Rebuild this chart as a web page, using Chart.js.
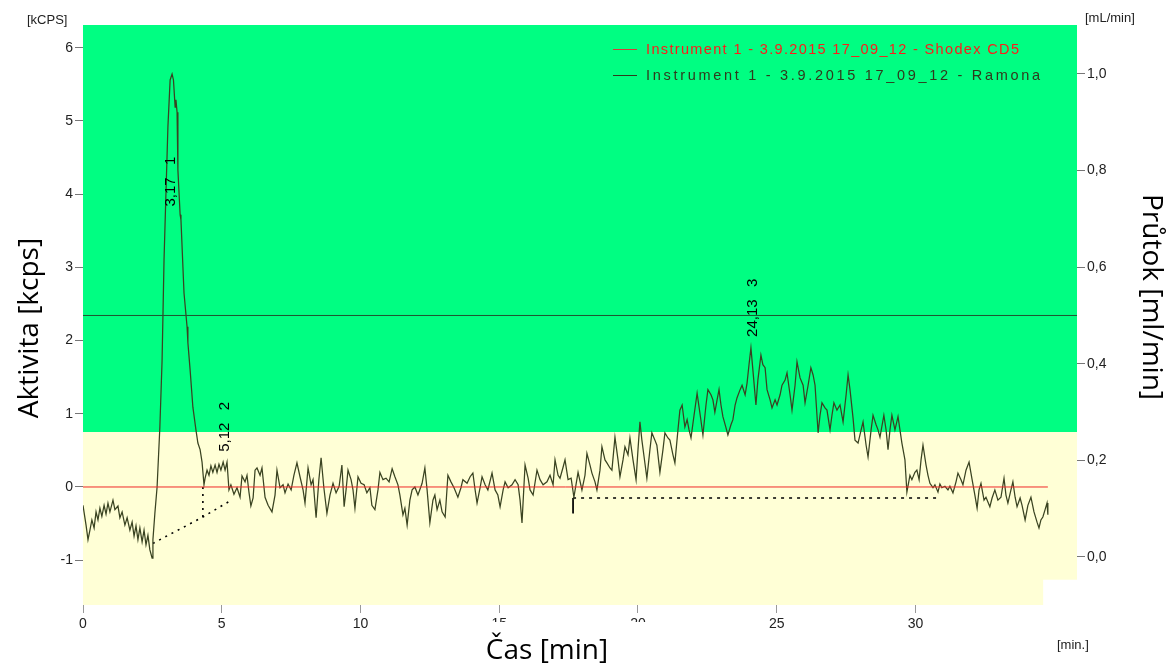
<!DOCTYPE html>
<html><head><meta charset="utf-8">
<script src="https://cdn.jsdelivr.net/npm/chart.js@4/dist/chart.umd.min.js"></script>
<style>html,body{margin:0;padding:0;background:#fff}canvas{display:block}</style>
</head><body>
<canvas id="c" width="1170" height="667"></canvas>
<script>
// ---- data ----
const xTicks = [0, 5, 10, 15, 20, 25, 30];
const yLeftTicks = [-1, 0, 1, 2, 3, 4, 5, 6];
const yRightTicks = [0, 0.2, 0.4, 0.6, 0.8, 1.0];

// Ramona radio detector trace [min, kcps]
const ramona = [
[0.00,-0.25],[0.11,-0.52],[0.18,-0.72],[0.25,-0.59],[0.32,-0.45],[0.40,-0.56],[0.47,-0.34],[0.54,-0.45],
[0.61,-0.29],[0.68,-0.40],[0.76,-0.25],[0.83,-0.37],[0.90,-0.22],[0.97,-0.34],[1.08,-0.18],[1.15,-0.31],
[1.26,-0.26],[1.33,-0.42],[1.41,-0.34],[1.51,-0.52],[1.59,-0.42],[1.69,-0.59],[1.77,-0.48],[1.84,-0.67],
[1.91,-0.53],[1.98,-0.72],[2.05,-0.56],[2.13,-0.75],[2.20,-0.59],[2.27,-0.79],[2.34,-0.66],[2.41,-0.86],
[2.49,-0.97],[2.52,-0.72],[2.59,-0.36],[2.67,0.00],[2.77,0.82],[2.85,1.73],[2.92,3.10],[2.99,4.02],
[3.06,4.92],[3.14,5.56],[3.21,5.64],[3.26,5.56],[3.32,5.19],[3.35,5.29],[3.39,5.12],[3.42,4.33],
[3.50,3.72],[3.53,3.65],[3.64,2.65],[3.75,2.19],[3.78,1.97],[3.86,1.60],[3.96,1.09],[4.07,0.78],
[4.14,0.60],[4.22,0.51],[4.29,0.34],[4.36,0.03],[4.40,0.12],[4.47,0.23],[4.54,0.16],[4.61,0.29],
[4.68,0.20],[4.76,0.30],[4.83,0.20],[4.90,0.31],[4.97,0.23],[5.05,0.34],[5.12,0.23],[5.19,0.34],
[5.26,-0.04],[5.33,0.03],[5.44,-0.10],[5.55,-0.01],[5.66,-0.14],[5.73,0.15],[5.84,0.07],[5.91,0.16],
[5.98,-0.07],[6.05,-0.26],[6.13,-0.15],[6.20,0.23],[6.27,0.26],[6.38,0.16],[6.45,0.26],[6.56,-0.14],
[6.67,-0.25],[6.81,-0.34],[6.92,-0.11],[6.99,0.23],[7.10,-0.01],[7.21,0.03],[7.28,-0.08],[7.39,0.04],
[7.50,-0.04],[7.60,0.16],[7.71,0.33],[7.82,0.14],[7.93,-0.04],[8.00,-0.22],[8.11,0.26],[8.22,0.03],
[8.29,0.10],[8.40,-0.42],[8.50,0.10],[8.58,0.40],[8.68,-0.01],[8.79,-0.36],[8.90,-0.11],[9.01,0.05],
[9.12,-0.08],[9.23,0.01],[9.33,0.30],[9.41,-0.27],[9.48,-0.04],[9.55,0.23],[9.66,0.10],[9.73,-0.04],
[9.80,-0.29],[9.91,0.14],[10.02,0.05],[10.13,0.03],[10.23,-0.08],[10.34,-0.01],[10.41,-0.25],[10.52,-0.31],
[10.63,-0.04],[10.70,0.20],[10.81,0.10],[10.92,0.12],[11.03,0.07],[11.14,0.25],[11.24,0.14],[11.35,0.03],
[11.42,-0.11],[11.53,-0.38],[11.60,-0.29],[11.68,-0.52],[11.78,-0.18],[11.86,-0.04],[11.96,0.00],[12.07,-0.11],
[12.22,0.05],[12.32,0.26],[12.40,-0.04],[12.50,-0.49],[12.61,-0.18],[12.68,-0.11],[12.76,-0.31],[12.86,-0.18],
[12.94,-0.34],[13.05,-0.41],[13.15,0.16],[13.26,0.07],[13.37,-0.01],[13.51,-0.14],[13.62,-0.01],[13.69,0.10],
[13.84,0.05],[13.95,0.14],[14.05,0.19],[14.13,-0.04],[14.20,-0.22],[14.31,-0.01],[14.38,0.14],[14.49,0.03],
[14.59,-0.04],[14.74,0.19],[14.85,-0.04],[14.95,-0.11],[15.03,-0.27],[15.14,-0.04],[15.21,0.07],[15.32,-0.01],
[15.46,0.03],[15.57,0.10],[15.68,0.03],[15.75,-0.18],[15.82,-0.49],[15.93,0.30],[16.04,0.12],[16.11,-0.04],
[16.22,-0.11],[16.36,0.23],[16.47,0.10],[16.58,0.03],[16.72,0.07],[16.83,0.16],[16.94,0.03],[17.01,0.37],
[17.12,0.16],[17.19,0.12],[17.30,0.27],[17.37,0.37],[17.48,0.10],[17.59,0.12],[17.69,-0.14],[17.84,0.20],
[17.98,-0.04],[18.09,0.16],[18.16,0.46],[18.27,0.30],[18.34,0.19],[18.45,0.07],[18.52,-0.04],[18.63,0.23],
[18.70,0.55],[18.81,0.37],[18.88,0.33],[18.99,0.26],[19.06,0.23],[19.17,0.68],[19.28,0.37],[19.35,0.14],
[19.46,0.37],[19.53,0.55],[19.64,0.44],[19.71,0.67],[19.82,0.37],[19.93,0.10],[20.00,0.51],[20.07,0.89],
[20.14,0.64],[20.22,0.41],[20.32,0.12],[20.43,0.51],[20.50,0.74],[20.61,0.64],[20.68,0.57],[20.79,0.20],
[20.90,0.51],[20.97,0.74],[21.08,0.67],[21.15,0.64],[21.26,0.44],[21.33,0.33],[21.44,0.78],[21.51,1.05],
[21.59,1.12],[21.69,0.82],[21.77,0.92],[21.84,0.78],[21.91,0.67],[22.02,0.98],[22.13,1.28],[22.25,0.96],
[22.34,0.71],[22.45,1.12],[22.52,1.33],[22.63,1.26],[22.70,1.19],[22.77,1.02],[22.85,1.19],[22.92,1.33],
[22.99,1.12],[23.06,0.96],[23.17,0.81],[23.24,0.71],[23.35,0.85],[23.42,0.92],[23.50,1.12],[23.57,1.22],
[23.68,1.33],[23.75,1.39],[23.86,1.26],[23.93,1.42],[24.00,1.67],[24.07,1.90],[24.14,1.60],[24.25,1.12],
[24.32,1.46],[24.43,1.80],[24.50,1.67],[24.58,1.63],[24.65,1.33],[24.76,1.19],[24.83,1.08],[24.94,1.19],
[25.01,1.12],[25.12,1.26],[25.19,1.39],[25.30,1.46],[25.37,1.56],[25.48,1.26],[25.55,1.05],[25.66,1.39],
[25.73,1.71],[25.84,1.49],[25.95,1.39],[26.02,1.15],[26.13,1.39],[26.23,1.63],[26.31,1.53],[26.38,1.39],
[26.49,0.74],[26.56,0.98],[26.63,1.15],[26.74,1.08],[26.81,1.05],[26.92,0.78],[26.99,0.98],[27.06,1.15],
[27.17,1.05],[27.28,1.12],[27.39,0.89],[27.50,1.26],[27.57,1.53],[27.64,1.33],[27.75,0.94],[27.82,0.64],
[27.93,0.60],[28.04,0.78],[28.11,0.89],[28.22,0.57],[28.29,0.41],[28.40,0.78],[28.47,0.98],[28.58,0.85],
[28.65,0.78],[28.72,0.68],[28.86,0.98],[28.94,0.78],[29.01,0.51],[29.08,0.78],[29.15,0.98],[29.26,0.78],
[29.37,0.96],[29.44,0.78],[29.51,0.60],[29.62,0.37],[29.69,-0.07],[29.80,0.16],[29.87,0.10],[29.98,0.20],
[30.05,0.23],[30.13,0.10],[30.20,0.37],[30.27,0.57],[30.38,0.30],[30.45,0.16],[30.52,0.05],[30.63,-0.01],
[30.70,0.03],[30.81,-0.07],[30.88,0.04],[30.95,-0.01],[31.06,0.01],[31.17,-0.04],[31.24,0.01],[31.35,-0.08],
[31.46,0.07],[31.53,0.19],[31.64,0.10],[31.71,0.03],[31.82,0.23],[31.93,0.34],[32.04,0.10],[32.14,-0.11],
[32.22,-0.29],[32.29,-0.04],[32.36,0.05],[32.47,-0.18],[32.54,-0.14],[32.68,-0.27],[32.76,-0.15],[32.86,-0.04],
[32.97,-0.18],[33.08,-0.14],[33.19,0.12],[33.26,-0.11],[33.33,-0.22],[33.44,-0.04],[33.51,0.07],[33.59,-0.14],
[33.66,-0.27],[33.77,-0.15],[33.84,-0.25],[33.95,-0.45],[34.05,-0.25],[34.16,-0.14],[34.27,-0.34],[34.38,-0.48],
[34.45,-0.56],[34.52,-0.45],[34.59,-0.41],[34.67,-0.31],[34.74,-0.22],[34.77,-0.38]
];
// Shodex CD5 signal [min, kcps]
const shodex = [[0, 0], [34.77, 0]];
// flow [min, mL/min]
const flow = [[0, 0.5], [35.82, 0.5]];
// integration baselines [min, kcps]
const baseline12 = [[2.52, -0.77], [4.32, -0.41], [5.30, -0.19]];
const drop12 = [[4.32, -0.41], [4.32, 0.0]];
const baseline3 = [[17.66, -0.15], [30.88, -0.15]];
const start3 = [[17.66, -0.15], [17.66, -0.36]];
// peak labels
const peakTimes = [3.17, 5.12, 24.13];
const peakIds = ['1', '2', '3'];
const peakLabelBase = [3.83, 0.48, 2.05];
const legendNames = ['Instrument 1 - 3.9.2015 17_09_12 - Shodex CD5', 'Instrument 1 - 3.9.2015 17_09_12 - Ramona'];

const xRange = [0, 35.82];
const yLeftRange = [-1.612, 6.311];
const yRightRange = [-0.0994, 1.1014];
const greenFloor = 0.75;       // kcps
const panelNotchTime = 34.6;   // min
const panelNotchFlow = -0.047; // mL/min

const pts = a => a.map(p => ({x: p[0], y: p[1]}));
const TRACE = '#3a4321';
const FONT = '"Liberation Sans", Arial, sans-serif';

const bgPlugin = {
  id: 'bg',
  beforeDraw(chart) {
    const {ctx, chartArea: a, scales} = chart;
    const yG = scales.yL.getPixelForValue(greenFloor);
    ctx.save();
    ctx.fillStyle = '#00fe82';
    ctx.fillRect(a.left, a.top, a.right - a.left, yG - a.top);
    ctx.fillStyle = '#ffffd6';
    ctx.fillRect(a.left, yG, a.right - a.left, a.bottom - yG);
    const nx = scales.x.getPixelForValue(panelNotchTime);
    const ny = scales.yR.getPixelForValue(panelNotchFlow);
    ctx.fillStyle = '#ffffff';
    ctx.fillRect(nx, ny, a.right - nx + 1, a.bottom - ny + 1);
    ctx.restore();
  },
  afterDraw(chart) {
    const {ctx, scales} = chart;
    ctx.save();
    // peak labels
    ctx.fillStyle = '#000';
    ctx.font = '15px ' + FONT;
    ctx.textAlign = 'left';
    ctx.textBaseline = 'middle';
    peakTimes.forEach((t, i) => {
      const x = scales.x.getPixelForValue(t);
      const y = scales.yL.getPixelForValue(peakLabelBase[i]);
      ctx.save();
      ctx.translate(x, y);
      ctx.rotate(-Math.PI / 2);
      ctx.fillText(String(t.toFixed(2)).replace('.', ',') + '   ' + peakIds[i], 0, 0);
      ctx.restore();
    });
    // legend
    const cols = ['#ff1a1a', '#2f3a1c'];
    const lineCols = ['#d83a3a', '#2f3a1c'];
    const spacing = ['1.35px', '2.7px'];
    [49, 75].forEach((y, i) => {
      ctx.strokeStyle = lineCols[i];
      ctx.lineWidth = 1;
      ctx.beginPath(); ctx.moveTo(613, y + 0.5); ctx.lineTo(637, y + 0.5); ctx.stroke();
      ctx.fillStyle = cols[i];
      ctx.font = '14.5px ' + FONT;
      ctx.letterSpacing = spacing[i];
      ctx.textBaseline = 'middle';
      ctx.fillText(legendNames[i], 646, y + 1);
    });
    ctx.letterSpacing = '0px';
    // unit labels
    ctx.fillStyle = '#222';
    ctx.font = '13px ' + FONT;
    ctx.textBaseline = 'middle';
    ctx.fillText('[kCPS]', 27, 20);
    ctx.fillText('[mL/min]', 1085, 18);
    ctx.fillText('[min.]', 1057, 645);
    // axis titles
    ctx.fillStyle = '#fff';
    ctx.fillRect(486, 622, 164, 45);
    ctx.fillStyle = '#000';
    ctx.font = '28px "Open Sans", sans-serif';
    ctx.textAlign = 'center';
    ctx.textBaseline = 'middle';
    ctx.fillText('Čas [min]', 547, 651);
    ctx.save();
    ctx.translate(30, 328);
    ctx.rotate(-Math.PI / 2);
    ctx.fillText('Aktivita [kcps]', 0, 0);
    ctx.restore();
    ctx.save();
    ctx.translate(1151, 297);
    ctx.rotate(Math.PI / 2);
    ctx.fillText('Průtok [ml/min]', 0, 0);
    ctx.restore();
    ctx.restore();
  }
};

const tickFont = {family: FONT, size: 14};
new Chart(document.getElementById('c'), {
  type: 'line',
  data: {
    datasets: [
      {label: 'flow', data: pts(flow), yAxisID: 'yR', borderColor: '#1f5530', borderWidth: 1},
      {label: 'Shodex CD5', data: pts(shodex), yAxisID: 'yL', borderColor: '#f02828', borderWidth: 1},
      {label: 'Ramona', data: pts(ramona), yAxisID: 'yL', borderColor: TRACE, borderWidth: 1.25},
      {label: 'b12', data: pts(baseline12), yAxisID: 'yL', borderColor: '#000', borderWidth: 1.6, borderDash: [2, 5]},
      {label: 'd12', data: pts(drop12), yAxisID: 'yL', borderColor: '#000', borderWidth: 1.6, borderDash: [2, 5]},
      {label: 'b3', data: pts(baseline3), yAxisID: 'yL', borderColor: '#000', borderWidth: 1.6, borderDash: [3, 5]},
      {label: 's3', data: pts(start3), yAxisID: 'yL', borderColor: '#000', borderWidth: 1}
    ]
  },
  options: {
    responsive: false,
    animation: false,
    devicePixelRatio: 1,
    layout: {padding: {top: 25, left: 0, right: 0, bottom: 0}},
    elements: {point: {radius: 0}, line: {tension: 0}},
    plugins: {legend: {display: false}, tooltip: {enabled: false}},
    scales: {
      x: {
        type: 'linear', min: xRange[0], max: xRange[1],
        afterFit: s => { s.height = 62; },
        afterBuildTicks: s => { s.ticks = xTicks.map(v => ({value: v})); },
        grid: {drawOnChartArea: false, tickLength: 8, color: '#999'},
        border: {display: false},
        ticks: {font: tickFont, color: '#222', padding: 3, maxRotation: 0}
      },
      yL: {
        type: 'linear', position: 'left', min: yLeftRange[0], max: yLeftRange[1],
        afterFit: s => { s.width = 83; },
        afterBuildTicks: s => { s.ticks = yLeftTicks.map(v => ({value: v})); },
        grid: {drawOnChartArea: false, tickLength: 8, color: '#777'},
        border: {display: false},
        ticks: {font: tickFont, color: '#222', padding: 2}
      },
      yR: {
        type: 'linear', position: 'right', min: yRightRange[0], max: yRightRange[1],
        afterFit: s => { s.width = 93; },
        afterBuildTicks: s => { s.ticks = yRightTicks.map(v => ({value: v})); },
        grid: {drawOnChartArea: false, tickLength: 8, color: '#777'},
        border: {display: false},
        ticks: {font: tickFont, color: '#222', padding: 2, callback: v => v.toFixed(1).replace('.', ',')}
      }
    }
  },
  plugins: [bgPlugin]
});
</script>
</body></html>
